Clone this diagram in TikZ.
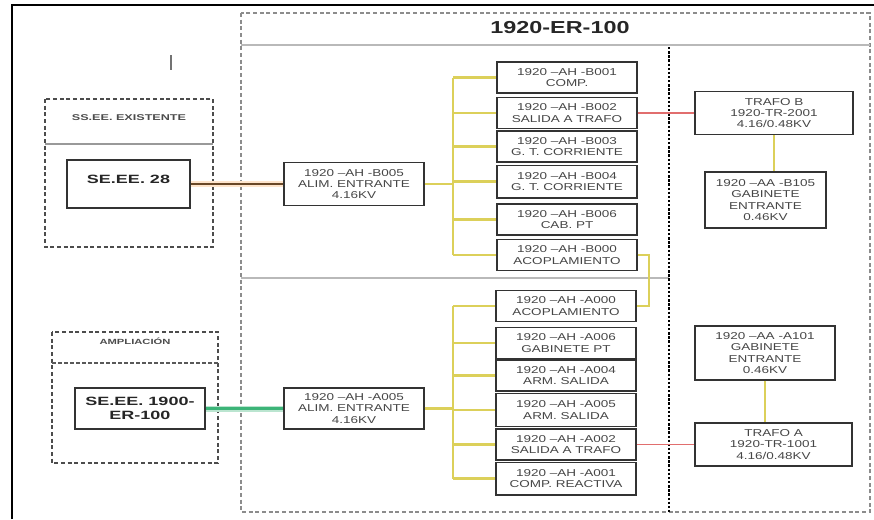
\documentclass[tikz,border=0pt]{standalone}
\usepackage{fontspec}
\setmainfont{Liberation Sans}
\newfontfamily\wideface[FakeStretch=1.35]{Liberation Sans}
\newfontfamily\widerface[FakeStretch=1.5]{Liberation Sans}
\definecolor{busyellow}{RGB}{220,208,90}
\definecolor{linkred}{RGB}{225,110,110}
\definecolor{linkbrown}{RGB}{105,72,40}
\definecolor{linkgreen}{RGB}{60,180,120}
\definecolor{sepgray}{RGB}{185,185,185}
\definecolor{boxtext}{RGB}{70,70,70}
\tikzset{
  cell/.style={draw=black!80, line width=1pt, fill=white, align=center,
    text=boxtext, inner sep=1pt,
    font=\wideface\fontsize{7.5}{8.5}\selectfont},
  colbox/.style={cell, minimum width=105pt, minimum height=23.25pt},
  srcbox/.style={draw=black!80, line width=1.1pt, fill=white, align=center,
    text=black!85, inner sep=1pt,
    font=\widerface\bfseries\fontsize{9}{11}\selectfont},
  bigdash/.style={draw=black!45, line width=0.9pt, dash pattern=on 3pt off 2pt},
  leftdash/.style={draw=black!70, line width=0.9pt, dash pattern=on 3pt off 2pt},
  sepline/.style={draw=sepgray, line width=1.1pt},
  divider/.style={draw=black, line width=2.2pt, dash pattern=on 1.8pt off 1.3pt},
  ybus/.style={draw=busyellow, line width=1.6pt},
  rlink/.style={draw=linkred, line width=1.4pt},
  smalllabel/.style={text=black!70, font=\widerface\bfseries\fontsize{6.3}{7}\selectfont}
}
\begin{document}
\begin{tikzpicture}[x=0.75pt,y=-0.75pt]
\useasboundingbox (0,0) rectangle (874,519);
% outer frame
\draw[line width=1.2pt] (12,519) -- (12,5) -- (874,5);
% stray tick
\draw[black!55, line width=0.8pt] (171,55) -- (171,70);

% main container
\draw[bigdash] (241,13) rectangle (870,512);
\draw[sepline] (241,45) -- (870,45);
\draw[sepline] (241,278) -- (669,278);
\node[text=black!85, font=\wideface\bfseries\fontsize{13}{15}\selectfont] (title) at (560,28) {1920-ER-100};
\draw[divider] (669,47) -- (669,512);

% left containers
\draw[leftdash] (45,99) rectangle (213,247);
\draw[draw=black!40, line width=0.8pt] (45,144) -- (213,144);
\node[smalllabel] (lblU) at (129,118) {SS.EE. EXISTENTE};
\draw[leftdash] (52,332) rectangle (218,463);
\draw[draw=black!65, line width=1.3pt, dash pattern=on 3pt off 1.5pt] (52,363) -- (218,363);
\node[smalllabel, font=\widerface\bfseries\fontsize{5.6}{7}\selectfont] (lblL) at (135,341) {AMPLIACIÓN};

\node[srcbox, minimum width=92.25pt, minimum height=36pt, text depth=7pt] (se28) at (128.5,184) {SE.EE. 28};
\node[srcbox, minimum width=97.5pt, minimum height=30.75pt] (se1900) at (140,408.5) {SE.EE. 1900-\\ER-100};

% incoming feeders
\node[cell, minimum width=105pt, minimum height=32.25pt] (b005) at (354,184) {1920 –AH -B005\\ALIM. ENTRANTE\\4.16KV};
\node[cell, minimum width=105pt, minimum height=30.75pt] (a005f) at (354,408.5) {1920 –AH -A005\\ALIM. ENTRANTE\\4.16KV};

% upper column
\node[colbox] (b001) at (567,77.5) {1920 –AH -B001\\COMP.};
\node[colbox] (b002) at (567,113) {1920 –AH -B002\\SALIDA A TRAFO};
\node[colbox] (b003) at (567,146.5) {1920 –AH -B003\\G. T. CORRIENTE};
\node[colbox, minimum height=24.5pt] (b004) at (567,181.5) {1920 –AH -B004\\G. T. CORRIENTE};
\node[colbox] (b006) at (567,219.5) {1920 –AH -B006\\CAB. PT};
\node[colbox] (b000) at (567,255) {1920 –AH -B000\\ACOPLAMIENTO};

% lower column
\node[colbox] (a000) at (566,306) {1920 –AH -A000\\ACOPLAMIENTO};
\node[colbox] (a006) at (566,343) {1920 –AH -A006\\GABINETE PT};
\node[colbox] (a004) at (566,375.5) {1920 –AH -A004\\ARM. SALIDA};
\node[colbox, minimum height=25pt] (a005) at (566,410) {1920 –AH -A005\\ARM. SALIDA};
\node[colbox] (a002) at (566,444.5) {1920 –AH -A002\\SALIDA A TRAFO};
\node[colbox, minimum height=24.5pt] (a001) at (566,478.5) {1920 –AH -A001\\COMP. REACTIVA};

% right side
\node[cell, minimum width=118.5pt, minimum height=32.25pt] (trb) at (774,113) {TRAFO B\\1920-TR-2001\\4.16/0.48KV};
\node[cell, minimum width=90.75pt, minimum height=42pt] (b105) at (765.5,200) {1920 –AA -B105\\GABINETE\\ENTRANTE\\0.46KV};
\node[cell, minimum width=105pt, minimum height=40.5pt] (a101) at (765,353) {1920 –AA -A101\\GABINETE\\ENTRANTE\\0.46KV};
\node[cell, minimum width=117.75pt, minimum height=32.25pt] (tra) at (773.5,444.5) {TRAFO A\\1920-TR-1001\\4.16/0.48KV};

% source links
\draw[draw=orange!20, line width=4.5pt] (se28.east) -- (b005.west);
\draw[draw=linkbrown, line width=2.2pt] (se28.east) -- (b005.west);
\draw[draw=linkgreen!35, line width=4.5pt] (se1900.east) -- (a005f.west);
\draw[draw=linkgreen, line width=2.2pt] (se1900.east) -- (a005f.west);

% upper bus
\coordinate (busU) at (453,184);
\draw[ybus] (b005.east) -- (busU);
\draw[ybus] (busU |- b001.west) -- (busU |- b000.west);
\foreach \n in {b001,b002,b003,b004,b006,b000}
  \draw[ybus] (busU |- \n.west) -- (\n.west);

% lower bus
\coordinate (busL) at (453,408.5);
\draw[ybus] (a005f.east) -- (busL);
\draw[ybus] (busL |- a000.west) -- (busL |- a001.west);
\foreach \n in {a000,a006,a004,a005,a002,a001}
  \draw[ybus] (busL |- \n.west) -- (\n.west);

% coupling
\coordinate (cpl) at (649,280);
\draw[ybus] (b000.east) -| (cpl) |- (a000.east);

% transformer links
\draw[rlink] (b002.east) -- (trb.west);
\draw[rlink] (a002.east) -- (tra.west);
\draw[ybus] (trb.south) -- (trb.south |- b105.north);
\draw[ybus] (a101.south) -- (a101.south |- tra.north);
\end{tikzpicture}
\end{document}
